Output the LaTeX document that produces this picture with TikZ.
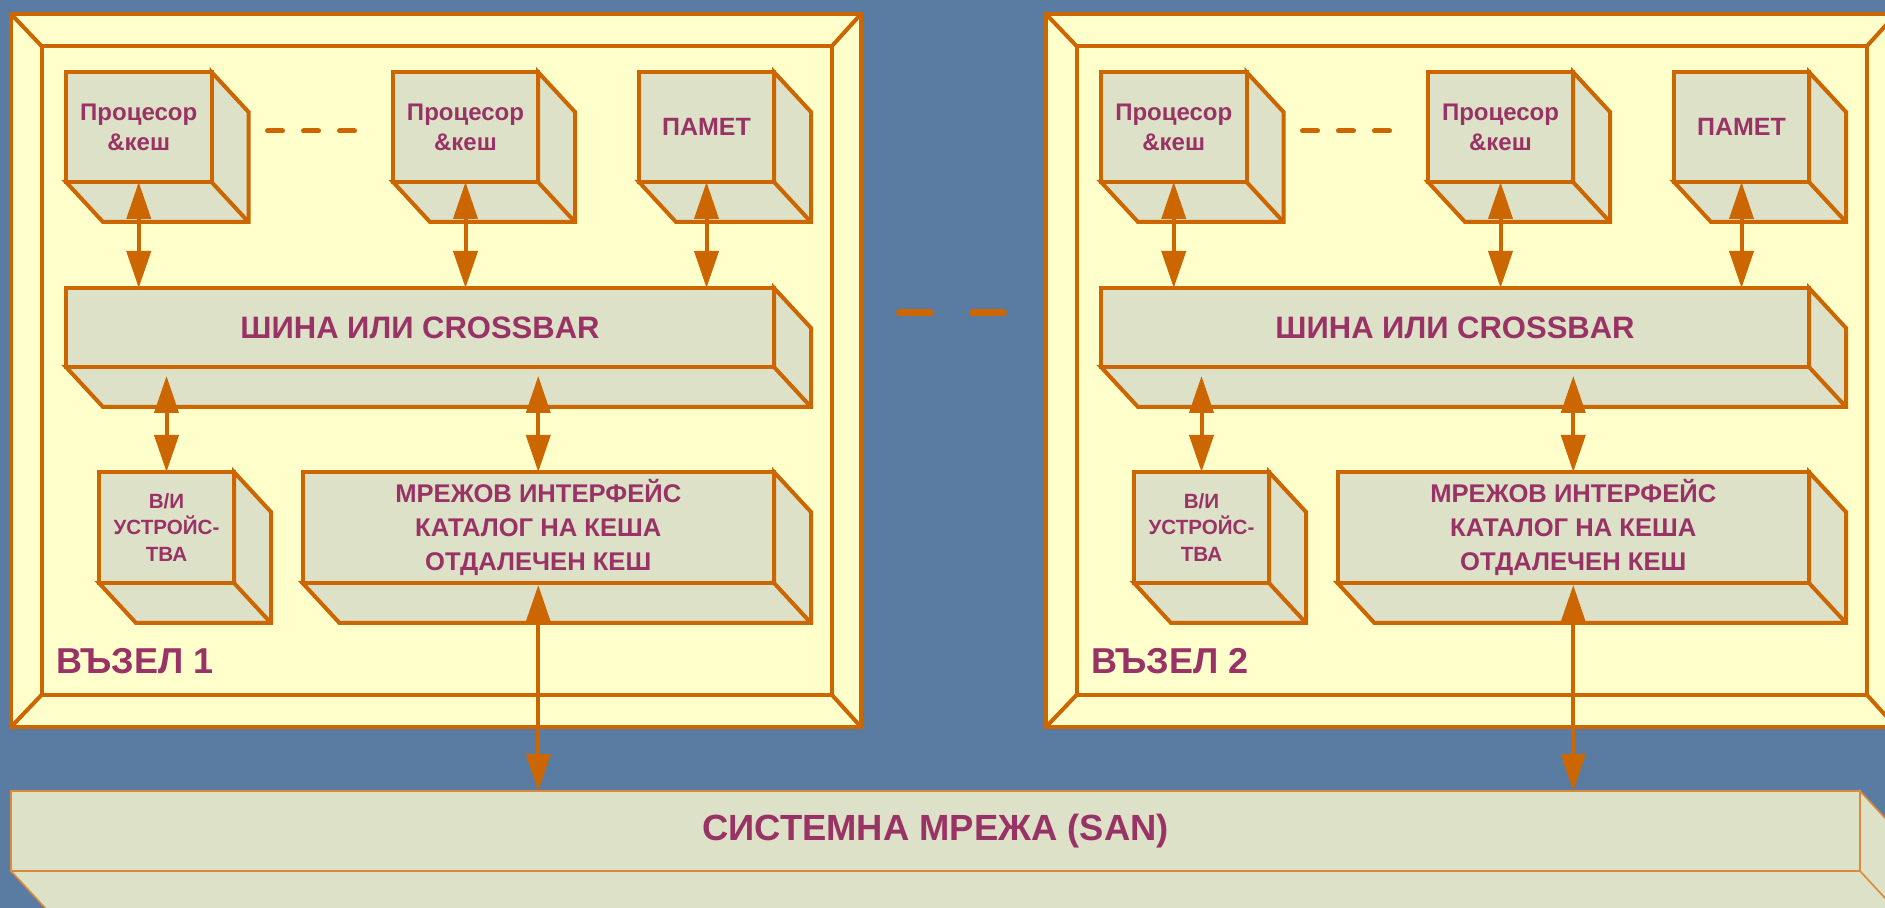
\documentclass[tikz,border=0pt]{standalone}
\usepackage{fontspec}
\setmainfont{Liberation Sans}
\usetikzlibrary{arrows.meta,calc}
\definecolor{bg}{HTML}{5A7CA2}
\definecolor{org}{HTML}{CC6600}
\definecolor{sanline}{HTML}{D98A3A}
\definecolor{yel}{HTML}{FFFFCC}
\definecolor{boxf}{HTML}{DCE1C8}
\definecolor{txt}{HTML}{993366}
\tikzset{
  front/.style={draw=org, fill=boxf, line width=2pt, inner sep=0pt, outer sep=0pt,
    text=txt, align=center},
  side/.style={draw=org, fill=boxf, line width=2pt, line join=miter},
  frameline/.style={draw=org, line width=2pt},
  framebox/.style={draw=org, fill=yel, line width=2pt, inner sep=0pt, outer sep=0pt},
  biarrow/.style={draw=org, line width=2pt,
    {Triangle[length=18.5pt,width=12pt]}-{Triangle[length=18.5pt,width=12pt]}},
  procfont/.style={font=\bfseries\fontsize{12pt}{15pt}\selectfont},
  memfont/.style={font=\bfseries\fontsize{12.5pt}{15pt}\selectfont},
  busfont/.style={font=\bfseries\fontsize{15.5pt}{18pt}\selectfont},
  iofont/.style={font=\bfseries\fontsize{10.3pt}{13.3pt}\selectfont},
  mifont/.style={font=\bfseries\fontsize{12.8pt}{17pt}\selectfont},
  lblfont/.style={font=\bfseries\fontsize{18pt}{20pt}\selectfont, text=txt, inner sep=0pt},
  sanstyle/.style={line width=0.8pt, draw=sanline, font=\bfseries\fontsize{18.2pt}{20pt}\selectfont},
  innerdash/.style={draw=org, line width=2.5pt, line cap=round, dash pattern=on 7.5pt off 10.5pt},
  outerdash/.style={draw=org, line width=3.5pt, line cap=round, dash pattern=on 15.5pt off 21pt}
}
% #1 name, #2 options, #3 x1, #4 y1, #5 x2, #6 y2, #7 text
\newcommand{\cubebox}[7]{%
  \draw[side,#2] ({#5},{#4}) -- ({#5+37},{#4+40}) -- ({#5+37},{#6+40}) -- ({#3+37},{#6+40})
     -- ({#3},{#6}) -- ({#5},{#6}) -- cycle;
  \draw[side,#2] ({#5},{#6}) -- ({#5+37},{#6+40});
  \node[front,#2,minimum width={((#5)-(#3))*0.5pt},minimum height={((#6)-(#4))*0.5pt}]
     (#1) at ({((#3)+(#5))/2},{((#4)+(#6))/2}) {#7};
}
% #1 suffix, #2 shift, #3 number
\newcommand{\nodeblock}[3]{%
  \node[framebox, minimum width=425pt, minimum height=356.5pt] (fo#1) at ({436+#2},370.5) {};
  \node[framebox, minimum width=395.25pt, minimum height=324.5pt] (fi#1) at ({436.75+#2},370.5) {};
  \draw[frameline] (fo#1.north west) -- (fi#1.north west);
  \draw[frameline] (fo#1.north east) -- (fi#1.north east);
  \draw[frameline] (fo#1.south west) -- (fi#1.south west);
  \draw[frameline] (fo#1.south east) -- (fi#1.south east);
  \cubebox{pa#1}{procfont}{66+#2}{72}{211.5+#2}{182}{Процесор\\\&кеш}
  \cubebox{pb#1}{procfont}{393+#2}{72}{538+#2}{182}{Процесор\\\&кеш}
  \cubebox{mem#1}{memfont}{639+#2}{72}{774+#2}{182}{ПАМЕТ}
  \cubebox{bus#1}{busfont}{66+#2}{288}{774+#2}{367}{ШИНА ИЛИ CROSSBAR}
  \cubebox{io#1}{iofont}{99+#2}{472}{234+#2}{583}{В/И\\УСТРОЙС-\\ТВА}
  \cubebox{mi#1}{mifont}{302.5+#2}{472}{774+#2}{583}{МРЕЖОВ ИНТЕРФЕЙС\\КАТАЛОГ НА КЕША\\ОТДАЛЕЧЕН КЕШ}
  \node[lblfont, anchor=west] (lab#1) at ({56+#2},661) {ВЪЗЕЛ #3};
  \draw[innerdash] ({267.5+#2},131) -- ({355.5+#2},131);
  \draw[biarrow] (pa#1.south) -- (pa#1.south |- bus#1.north);
  \draw[biarrow] (pb#1.south) -- (pb#1.south |- bus#1.north);
  \draw[biarrow] (mem#1.south) -- (mem#1.south |- bus#1.north);
  \draw[biarrow] ($(io#1.north |- bus#1.south)+(0,9)$) -- (io#1.north);
  \draw[biarrow] ($(mi#1.north |- bus#1.south)+(0,9)$) -- (mi#1.north);
  \draw[biarrow] ($(mi#1.south)+(0,2)$) -- (mi#1.south |- san.north);
}
\begin{document}
\begin{tikzpicture}[x=0.5pt,y=-0.5pt]
  \useasboundingbox (0,0) rectangle (1885,908);
  \clip (0,0) rectangle (1885,908);
  \fill[bg] (0,0) rectangle (1885,908);
  \cubebox{san}{sanstyle}{11}{791}{1860}{871}{СИСТЕМНА МРЕЖА (SAN)}
  \nodeblock{a}{0}{1}
  \nodeblock{b}{1035}{2}
  \draw[outerdash] (899.5,313) -- (1003.5,313);
\end{tikzpicture}
\end{document}
